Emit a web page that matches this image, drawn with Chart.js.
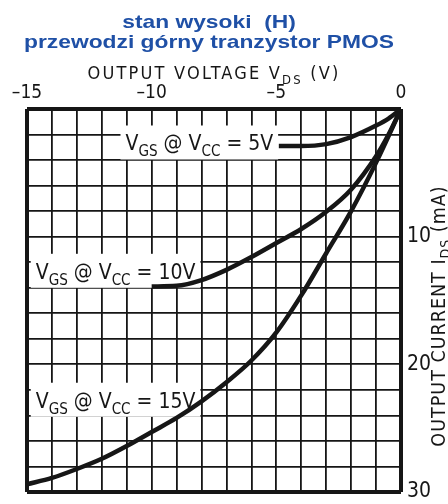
<!DOCTYPE html>
<html>
<head>
<meta charset="utf-8">
<script src="https://cdn.jsdelivr.net/npm/chart.js@4/dist/chart.umd.min.js"></script>
<style>
	body { margin: 0; background: #fff; }
	#wrap { width: 448px; height: 504px; }
</style>
</head>
<body>
<div id="wrap"><canvas id="pmos-chart" width="448" height="504"></canvas></div>
<script>
// dane (V_DS w V, I_DS w mA)
const vds5 = [-4.9, -4, -3, -2, -1, -0.5, 0];
const ids5 = [2.9, 2.9, 2.75, 2.2, 1.3, 0.75, 0];

const vds10 = [-10, -9, -8, -7, -6, -5, -4, -3, -2, -1, -0.5, 0];
const ids10 = [13.9, 13.85, 13.4, 12.6, 11.6, 10.5, 9.4, 8.05, 6.3, 3.7, 2.0, 0];

const vds15 = [-15, -14, -13, -12, -11, -10, -9, -8, -7, -6, -5, -4, -3, -2, -1, 0];
const ids15 = [29.4, 28.9, 28.2, 27.4, 26.4, 25.3, 24.2, 22.9, 21.4, 19.7, 17.5, 14.6, 11.3, 8.0, 4.2, 0];

const xTickLabels = [-15, -10, -5, 0];
const yTickLabels = [10, 20, 30];

const curveLabels = [
	{ vcc: '5V', v: -11.05, i: 3.25 },
	{ vcc: '10V', v: -14.65, i: 13.3 },
	{ vcc: '15V', v: -14.65, i: 23.4 },
];

const NARROW = "'Liberation Sans Narrow', 'DejaVu Sans Condensed', 'Noto Sans', sans-serif";
const INK = '#161616';

function pairs(xs, ys) {
	return xs.map((x, k) => ({ x: x, y: ys[k] }));
}

function curve(xs, ys) {
	return {
		data: pairs(xs, ys),
		borderColor: INK,
		borderWidth: 4.5,
		pointRadius: 0,
		fill: false,
		cubicInterpolationMode: 'monotone',
	};
}

// tekst z indeksem dolnym, np. V_GS
function drawSub(ctx, parts, x, y, size, spacing) {
	let cx = x;
	parts.forEach((p) => {
		const s = p.sub ? size * 0.72 : size;
		ctx.font = s + 'px ' + NARROW;
		ctx.letterSpacing = (spacing || 0) + 'px';
		ctx.fillText(p.t, cx, y + (p.sub ? size * 0.28 : 0));
		cx += ctx.measureText(p.t).width;
	});
	ctx.letterSpacing = '0px';
	return cx - x;
}

function measureSub(ctx, parts, size, spacing) {
	let w = 0;
	parts.forEach((p) => {
		const s = p.sub ? size * 0.72 : size;
		ctx.font = s + 'px ' + NARROW;
		ctx.letterSpacing = (spacing || 0) + 'px';
		w += ctx.measureText(p.t).width;
	});
	ctx.letterSpacing = '0px';
	return w;
}

const labelsPlugin = {
	id: 'pmosLabels',
	beforeDatasetsDraw(chart) {
		const ctx = chart.ctx;
		const xs = chart.scales.x;
		const ys = chart.scales.y;
		ctx.save();
		ctx.textBaseline = 'alphabetic';
		ctx.textAlign = 'left';
		curveLabels.forEach((l) => {
			const parts = [
				{ t: 'V' }, { t: 'GS', sub: true }, { t: ' @ V' }, { t: 'CC', sub: true }, { t: ' = ' + l.vcc },
			];
			const px = xs.getPixelForValue(l.v);
			const py = ys.getPixelForValue(l.i);
			const w = measureSub(ctx, parts, 21, 0);
			ctx.fillStyle = '#fff';
			ctx.fillRect(px - 5, py - 25, w + 10, 34);
			ctx.fillStyle = INK;
			drawSub(ctx, parts, px, py, 21, 0);
		});
		ctx.restore();
	},
	afterDraw(chart) {
		const ctx = chart.ctx;
		ctx.save();
		ctx.textBaseline = 'alphabetic';

		// tytuł (szeroki, pogrubiony)
		ctx.fillStyle = '#1f50a6';
		ctx.textAlign = 'center';
		ctx.font = "bold 19px 'Liberation Sans', Arial, sans-serif";
		[['stan wysoki  (H)', 28], ['przewodzi górny tranzystor PMOS', 48]].forEach(([t, y]) => {
			ctx.save();
			ctx.translate(209, y);
			ctx.scale(1.2, 1);
			ctx.fillText(t, 0, 0);
			ctx.restore();
		});

		// tytuł osi X
		ctx.fillStyle = INK;
		ctx.textAlign = 'left';
		const xParts = [{ t: 'OUTPUT VOLTAGE V' }, { t: 'DS', sub: true }, { t: ' (V)' }];
		const xw = measureSub(ctx, xParts, 18, 2.2);
		drawSub(ctx, xParts, 214 - xw / 2, 79, 18, 2.2);

		// tytuł osi Y (obrócony)
		const yParts = [{ t: 'OUTPUT CURRENT I' }, { t: 'DS', sub: true }, { t: ' (mA)' }];
		const yw = measureSub(ctx, yParts, 19.5, 1.0);
		ctx.translate(445, 316);
		ctx.rotate(-Math.PI / 2);
		drawSub(ctx, yParts, -yw / 2, 0, 19.5, 1.0);
		ctx.restore();
	},
};

function pmosChart() {
	const ctx = document.getElementById('pmos-chart');

	if (!ctx) {
		return;
	}

	new Chart(ctx, {
		type: 'line',
		data: {
			datasets: [curve(vds5, ids5), curve(vds10, ids10), curve(vds15, ids15)],
		},
		options: {
			responsive: false,
			animation: false,
			events: [],
			layout: {
				padding: { left: 27, top: 84, right: 0, bottom: 12 },
			},
			plugins: {
				legend: { display: false },
				tooltip: { enabled: false },
			},
			scales: {
				x: {
					type: 'linear',
					position: 'top',
					min: -15,
					max: 0,
					afterFit: (s) => {
						s.height = 25;
						s.paddingLeft = 0;
						s.paddingRight = 0;
					},
					ticks: {
						stepSize: 1,
						padding: 5,
						color: INK,
						maxRotation: 0,
						autoSkip: false,
						font: { family: NARROW, size: 19 },
						callback: (v) => (xTickLabels.includes(v) ? (v < 0 ? '\u2013' + Math.abs(v) : String(v)) : ''),
					},
					grid: {
						color: INK,
						drawTicks: false,
						lineWidth: (c) => (c.tick && (c.tick.value === -15 || c.tick.value === 0) ? 4 : 1.8),
					},
					border: { display: false },
				},
				y: {
					type: 'linear',
					position: 'right',
					reverse: true,
					min: 0,
					max: 30,
					afterFit: (s) => {
						s.width = 47;
						s.paddingTop = 0;
						s.paddingBottom = 0;
					},
					ticks: {
						stepSize: 2,
						padding: 6,
						color: INK,
						autoSkip: false,
						font: { family: NARROW, size: 21 },
						callback: (v) => (yTickLabels.includes(v) ? String(v) : ''),
					},
					grid: {
						color: INK,
						drawTicks: false,
						lineWidth: (c) => (c.tick && (c.tick.value === 0 || c.tick.value === 30) ? 4 : 1.8),
					},
					border: { display: false },
				},
			},
		},
		plugins: [labelsPlugin],
	});
}

document.addEventListener('DOMContentLoaded', pmosChart);
</script>
</body>
</html>
